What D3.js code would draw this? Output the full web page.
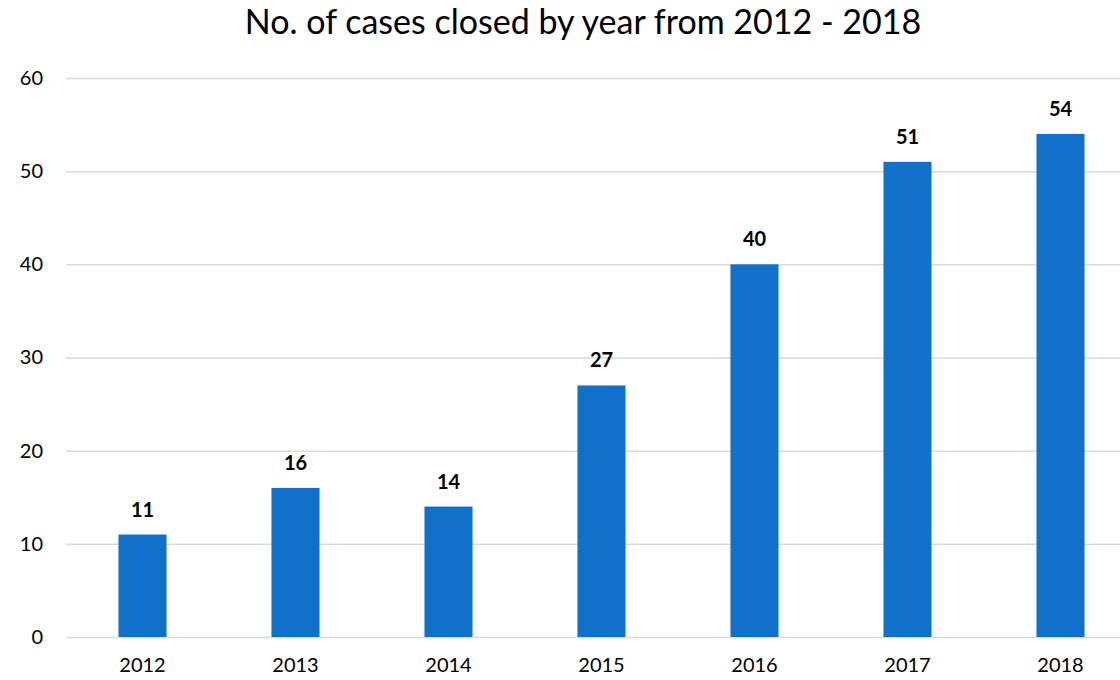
<!DOCTYPE html>
<html>
<head>
<meta charset="utf-8">
<script src="https://cdn.jsdelivr.net/npm/d3@7"></script>
<style>
  html, body { margin: 0; padding: 0; background: #fff; }
  text { font-family: Lato, "Open Sans", sans-serif; fill: #000; }
</style>
</head>
<body>
<div class="chart"></div>
<script>
// cases closed per year
var years = ["2012", "2013", "2014", "2015", "2016", "2017", "2018"];
var casesClosed = [11, 16, 14, 27, 40, 51, 54];
var yTicks = [0, 10, 20, 30, 40, 50, 60];

var w = 1120, h = 680;

var svg = d3.select('.chart').append('svg')
	.attr('width', w)
	.attr('height', h);

var x = d3.scaleBand()
	.domain(years)
	.range([66, 1137])
	.paddingInner(0.686)
	.paddingOuter(0.343);

var y = d3.scaleLinear()
	.domain([0, 60])
	.range([637, 78]);

// title
svg.append('text')
	.attr('x', 583)
	.attr('y', 34)
	.attr('text-anchor', 'middle')
	.style('font-size', '34px')
	.text('No. of cases closed by year from 2012 - 2018');

// gridlines + y labels
var yAxis = d3.axisLeft(y)
	.tickValues(yTicks)
	.tickSize(-(w - 66))
	.tickPadding(23);

svg.append('g')
	.attr('class', 'y axis')
	.attr('transform', 'translate(66,0)')
	.call(yAxis)
	.call(function(g) {
		g.select('.domain').remove();
		g.selectAll('.tick line').attr('stroke', '#d9d9d9').attr('stroke-width', 1.5);
		g.selectAll('.tick text').style('font-size', '20px').attr('fill', '#000');
	});

// x labels
var xAxis = d3.axisBottom(x).tickSize(0).tickPadding(21);

svg.append('g')
	.attr('class', 'x axis')
	.attr('transform', 'translate(0,637)')
	.call(xAxis)
	.call(function(g) {
		g.select('.domain').remove();
		g.selectAll('.tick text').style('font-size', '20px').attr('fill', '#000');
	});

// bars
svg.selectAll('rect.bar')
	.data(casesClosed)
	.enter().append('rect')
	.attr('class', 'bar')
	.attr('x', function(d, i) { return x(years[i]); })
	.attr('width', x.bandwidth())
	.attr('y', function(d) { return y(d); })
	.attr('height', function(d) { return y(0) - y(d); })
	.attr('fill', '#1170c8');

// value labels
svg.selectAll('text.val')
	.data(casesClosed)
	.enter().append('text')
	.attr('class', 'val')
	.attr('x', function(d, i) { return x(years[i]) + x.bandwidth() / 2; })
	.attr('y', function(d) { return y(d) - 18; })
	.attr('text-anchor', 'middle')
	.style('font-size', '20px')
	.style('font-weight', 'bold')
	.text(function(d) { return d; });
</script>
</body>
</html>
